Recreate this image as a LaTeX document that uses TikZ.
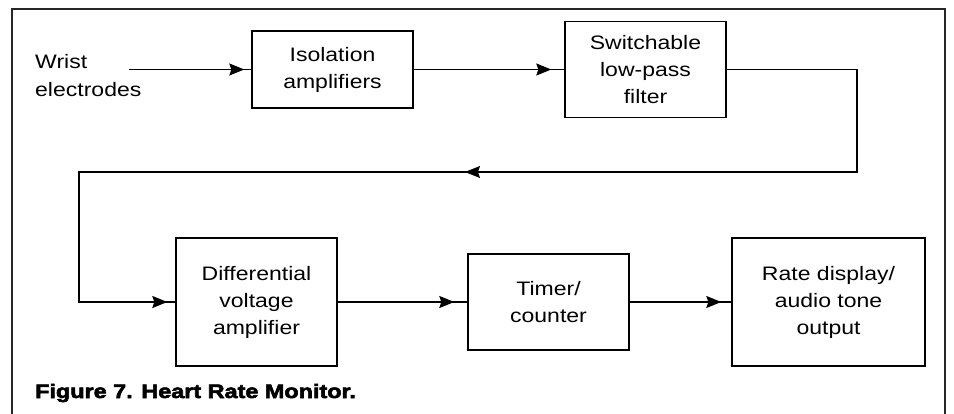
\documentclass[tikz,border=0pt]{standalone}
\usepackage{fontspec}
\setmainfont{Liberation Sans}[FakeStretch=1.18]
\newfontfamily\capfont{Liberation Sans}[FakeStretch=1.2, BoldFeatures={FakeBold=3}]
\usetikzlibrary{arrows.meta,decorations.markings}
\begin{document}
\begin{tikzpicture}[x=1pt,y=-1pt,
  blockbox/.style={draw, line width=1.4pt, inner sep=0pt, align=center,
    font=\fontsize{19.5}{27}\selectfont},
  wire/.style={line width=1.1pt},
  arrowat/.style={postaction={decorate}, decoration={markings,
    mark=at position #1 with {\arrow{Stealth[length=15pt,width=12pt,inset=2pt]}}}}]
\useasboundingbox (0,0) rectangle (954,414);
\clip (0,0) rectangle (954,414);
% outer frame
\draw[line width=2pt, black!85] (12,440) -- (12,9) -- (945,9) -- (945,440);

% blocks
\node[blockbox, minimum width=161, minimum height=77] (iso) at (332.5,69.5) {Isolation\\amplifiers};
\node[blockbox, minimum width=161, minimum height=96] (sw) at (645.5,69.5) {Switchable\\low-pass\\filter};
\node[blockbox, minimum width=161, minimum height=128] (diff) at (256.5,302) {Differential\\voltage\\amplifier};
\node[blockbox, minimum width=161, minimum height=96] (tim) at (548.5,302) {Timer/\\counter};
\node[blockbox, minimum width=193, minimum height=128] (rate) at (828.5,302) {Rate display/\\audio tone\\output};

% input label
\node[anchor=west, align=left, inner sep=0pt, font=\fontsize{19.5}{28}\selectfont] (wrist) at (35,76) {Wrist\\electrodes};
\coordinate (inp) at (129,69.5);

% feedback route
\coordinate (fbR) at (857,172);
\coordinate (fbL) at (79,172);

% connectors
\draw[wire, arrowat=-7pt] (inp) -- (iso.west);
\draw[wire, arrowat=-13pt] (iso.east) -- (sw.west);
\draw[wire] (sw.east) -| (fbR) -- (fbL) |- (diff.west);
\draw[wire, arrowat=392pt] (fbR) -- (fbL);
\draw[wire, arrowat=-8pt] (fbL |- diff.west) -- (diff.west);
\draw[wire, arrowat=-13pt] (diff.east) -- (tim.west);
\draw[wire, arrowat=-10pt] (tim.east) -- (rate.west);

% caption
\node[anchor=base west, inner sep=0pt, font=\capfont\bfseries\fontsize{19.5}{24}\selectfont] (cap) at (35,398) {Figure 7. Heart Rate Monitor.};
\end{tikzpicture}
\end{document}
